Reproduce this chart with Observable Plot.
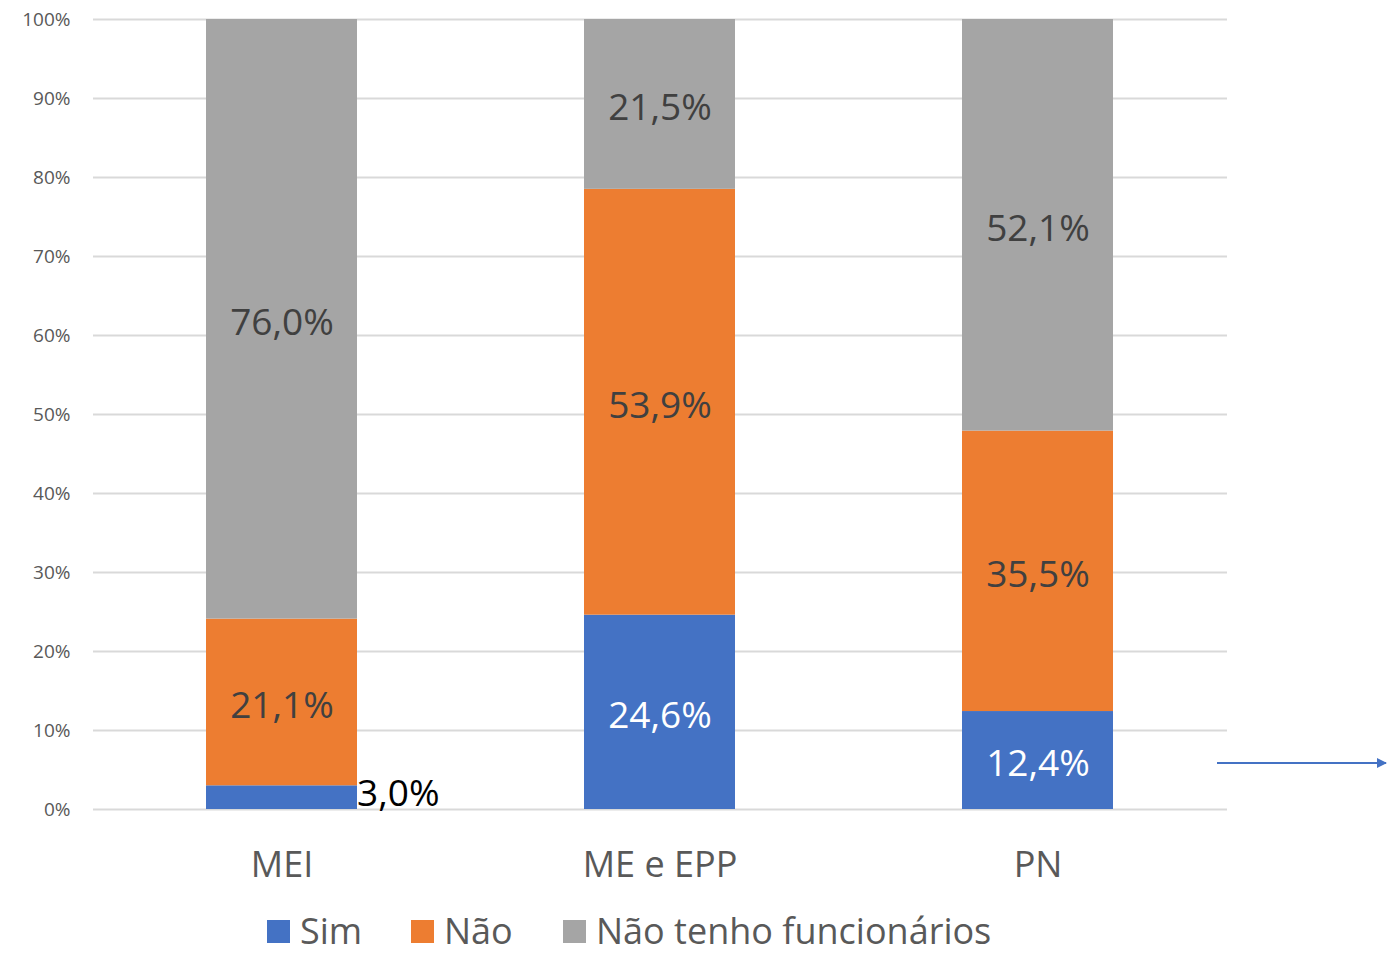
<!DOCTYPE html>
<html>
<head>
<meta charset="utf-8">
<script src="https://cdn.jsdelivr.net/npm/d3@7"></script>
<script src="https://cdn.jsdelivr.net/npm/@observablehq/plot@0.6"></script>
<style>
  html, body { margin: 0; padding: 0; background: #fff; }
  body { width: 1390px; height: 955px; position: relative; font-family: "Open Sans", sans-serif; }
  #legend { position: absolute; left: 0; top: 907px; width: 1390px; height: 48px; }
  .item { position: absolute; top: 0; display: flex; align-items: center; height: 48px; line-height: 48px; color: #595959; font-size: 36px; white-space: nowrap; }
  .sw { width: 23px; height: 23px; margin-right: 10px; }
  #arrow { position: absolute; left: 0; top: 0; }
</style>
</head>
<body>
<div id="chart"></div>
<div id="legend"></div>
<script>
// Data
const categories = ["MEI", "ME e EPP", "PN"];
const series = ["Sim", "Não", "Não tenho funcionários"];
const sim = [3.0, 24.6, 12.4];
const nao = [21.1, 53.9, 35.5];
const naoTenho = [76.0, 21.5, 52.1];
const colors = ["#4472c4", "#ed7d31", "#a5a5a5"];
const yTicks = [0, 10, 20, 30, 40, 50, 60, 70, 80, 90, 100];

const values = [sim, nao, naoTenho];
const data = [];
series.forEach((s, si) => categories.forEach((c, ci) => {
  data.push({cat: c, series: s, value: values[si][ci]});
}));
const fmt = v => v.toFixed(1).replace(".", ",") + "%";
const isSmall = d => d.value < 5;

const W = 1390, H = 905;
const plot = Plot.plot({
  width: W, height: H,
  marginLeft: 93, marginRight: 163, marginTop: 19, marginBottom: 96,
  style: {fontFamily: "Open Sans, sans-serif", background: "#fff"},
  x: {domain: categories, paddingInner: 0.6, paddingOuter: 0.3, label: null},
  y: {domain: [0, 100], label: null, clamp: true},
  color: {domain: series, range: colors},
  marks: [
    Plot.ruleY(yTicks, {stroke: "#d9d9d9", strokeWidth: 2}),
    Plot.barY(data, {x: "cat", y: "value", fill: "series", z: "series", order: series}),
    Plot.text(data, Plot.stackY({
      x: "cat", y: "value", z: "series", order: series,
      text: d => isSmall(d) ? null : fmt(d.value),
      fill: d => d.series === "Sim" ? "#ffffff" : "#404040",
      fontSize: 37, dy: 4
    })),
    Plot.text(data, Plot.stackY({
      x: "cat", y: "value", z: "series", order: series,
      text: d => isSmall(d) ? fmt(d.value) : null,
      fill: "#000000", fontSize: 37, textAnchor: "start", dx: 75, dy: -3
    })),
    Plot.axisY({ticks: yTicks, tickSize: 0, tickPadding: 23, tickFormat: d => d + "%", fontSize: 19, fill: "#595959"}),
    Plot.axisX({tickSize: 0, tickPadding: 42, fontSize: 36, fill: "#595959"})
  ]
});
document.getElementById("chart").appendChild(plot);

// Legend
const legend = document.getElementById("legend");
const lefts = [267, 411, 563];
series.forEach((s, i) => {
  const it = document.createElement("div");
  it.className = "item";
  it.style.left = lefts[i] + "px";
  it.innerHTML = `<div class="sw" style="background:${colors[i]}"></div><span>${s}</span>`;
  legend.appendChild(it);
});

// Decorative arrow at right (present in source image)
const ns = "http://www.w3.org/2000/svg";
const svg = document.createElementNS(ns, "svg");
svg.setAttribute("id", "arrow");
svg.setAttribute("width", 1390); svg.setAttribute("height", 955);
svg.innerHTML = `<defs><marker id="ah" viewBox="0 0 10 10" refX="9" refY="5" markerWidth="5" markerHeight="5" orient="auto"><path d="M0,0L10,5L0,10z" fill="#4472c4"/></marker></defs>
<line x1="1217" y1="763" x2="1386" y2="763" stroke="#4472c4" stroke-width="2" marker-end="url(#ah)"/>`;
document.body.appendChild(svg);
</script>
</body>
</html>
